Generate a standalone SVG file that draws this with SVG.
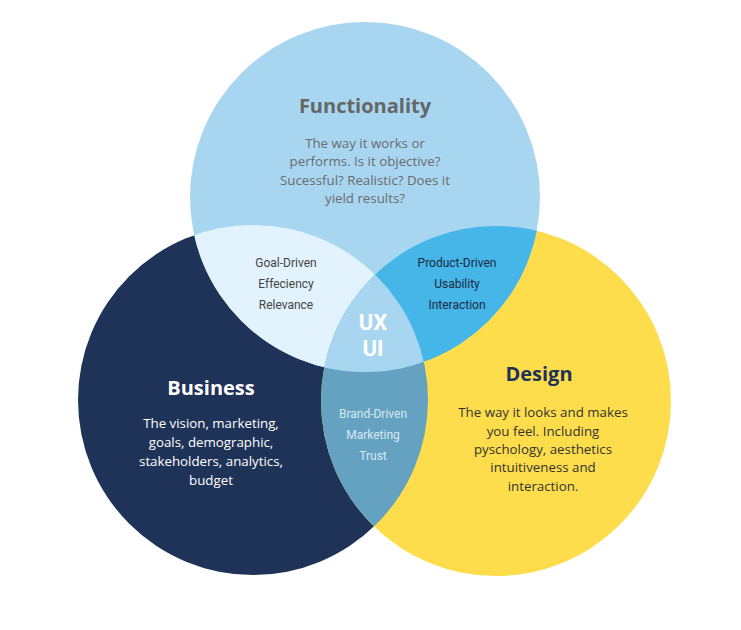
<svg xmlns="http://www.w3.org/2000/svg" width="741" height="630" viewBox="0 0 741 630">
<style>
.title{font-family:"Open Sans","Liberation Sans",sans-serif;font-weight:700;font-size:20px;text-anchor:middle}
.desc{font-family:"Open Sans","Liberation Sans",sans-serif;font-size:13.3px;text-anchor:middle}
.lab{font-family:Roboto,"Liberation Sans",sans-serif;font-size:12px;text-anchor:middle}
.ux{font-family:Roboto,"Liberation Sans",sans-serif;font-weight:700;font-size:22px;text-anchor:middle;fill:#ffffff}
</style>
<defs>
<clipPath id="cB"><circle cx="253" cy="400" r="175"/></clipPath>
<clipPath id="cD"><circle cx="496" cy="401" r="175"/></clipPath>
</defs>
<rect width="741" height="630" fill="#ffffff"/>
<g id="business">
<circle cx="253" cy="400" r="175" fill="#1f3358"/>
</g>
<g id="design">
<circle cx="496" cy="401" r="175" fill="#fddd4b"/>
</g>
<g id="functionality">
<circle cx="365" cy="197" r="175" fill="#a8d6f1"/>
</g>
<g id="business-design">
<circle cx="253" cy="400" r="175" fill="#65a2c1" clip-path="url(#cD)"/>
</g>
<g id="functionality-business">
<circle cx="365" cy="197" r="175" fill="#e2f3fd" clip-path="url(#cB)"/>
</g>
<g id="functionality-design">
<circle cx="365" cy="197" r="175" fill="#45b6e7" clip-path="url(#cD)"/>
</g>
<g id="ux-ui">
<g clip-path="url(#cB)"><circle cx="365" cy="197" r="175" fill="#a8d5ef" clip-path="url(#cD)"/></g>
<text class="ux" x="373" y="330">UX</text>
<text class="ux" x="373" y="356">UI</text>
</g>
<g id="functionality-text">
<text class="title" x="365" y="113" fill="#666666">Functionality</text>
<text class="desc" fill="#6b6b6b" x="365" y="148">The way it works or</text>
<text class="desc" fill="#6b6b6b" x="365" y="166">performs. Is it objective?</text>
<text class="desc" fill="#6b6b6b" x="365" y="185">Sucessful? Realistic? Does it</text>
<text class="desc" fill="#6b6b6b" x="365" y="203">yield results?</text>
</g>
<g id="business-text">
<text class="title" x="211" y="395" fill="#ffffff">Business</text>
<text class="desc" fill="#ffffff" x="211" y="428">The vision, marketing,</text>
<text class="desc" fill="#ffffff" x="211" y="447">goals, demographic,</text>
<text class="desc" fill="#ffffff" x="211" y="466">stakeholders, analytics,</text>
<text class="desc" fill="#ffffff" x="211" y="485">budget</text>
</g>
<g id="design-text">
<text class="title" x="539" y="381" fill="#1f3358">Design</text>
<text class="desc" fill="#333333" x="543" y="417">The way it looks and makes</text>
<text class="desc" fill="#333333" x="543" y="436">you feel. Including</text>
<text class="desc" fill="#333333" x="543" y="454">pyschology, aesthetics</text>
<text class="desc" fill="#333333" x="543" y="472">intuitiveness and</text>
<text class="desc" fill="#333333" x="543" y="491">interaction.</text>
</g>
<g id="goal-text">
<text class="lab" fill="#444444" x="286" y="267">Goal-Driven</text>
<text class="lab" fill="#444444" x="286" y="288">Effeciency</text>
<text class="lab" fill="#444444" x="286" y="309">Relevance</text>
</g>
<g id="product-text">
<text class="lab" fill="#1a2a44" x="457" y="267">Product-Driven</text>
<text class="lab" fill="#1a2a44" x="457" y="288">Usability</text>
<text class="lab" fill="#1a2a44" x="457" y="309">Interaction</text>
</g>
<g id="brand-text">
<text class="lab" fill="#d6e8f2" x="373" y="418">Brand-Driven</text>
<text class="lab" fill="#d6e8f2" x="373" y="439">Marketing</text>
<text class="lab" fill="#d6e8f2" x="373" y="460">Trust</text>
</g>
<g id="connectors"></g>
</svg>
